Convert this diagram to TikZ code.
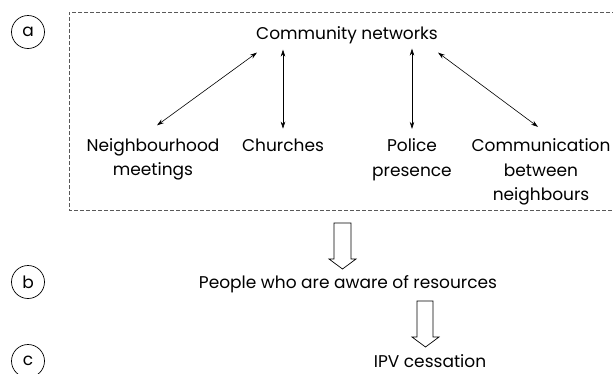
\documentclass[tikz,border=0pt]{standalone}
\usepackage{fontspec}
\setmainfont{Poppins}
\usetikzlibrary{arrows.meta,calc}
\begin{document}
\begin{tikzpicture}[x=1pt,y=-1pt,
  txt/.style={font=\fontsize{17}{24.5}\selectfont, inner sep=0pt, align=center, anchor=base},
  lbl/.style={draw, circle, minimum size=33pt, inner sep=0pt, line width=0.7pt, font=\fontsize{17}{20}\selectfont},
  dbl/.style={{Stealth[length=7pt,width=4.5pt]}-{Stealth[length=7pt,width=4.5pt]}, line width=0.6pt},
  grp/.style={draw=black!65, dash pattern=on 4pt off 2pt, line width=0.8pt},
  hollow/.style={draw, line width=0.7pt, fill=white, line join=miter}]
\useasboundingbox (0,0) rectangle (613,373);
\fill[white] (0,0) rectangle (613,373);
\draw[grp] (640,12) -- (69,12) -- (69,210) -- (640,210);
\node[lbl] (la) at (28,32) {a};
\node[lbl] (lb) at (28,282) {b};
\node[lbl] (lc) at (28,361) {c};
\node[txt] (cn) at (347,39) {Community networks};
\node[txt] (nm) at (153,175.5) {Neighbourhood\\meetings};
\node[txt] (ch) at (283,151) {Churches};
\node[txt] (po) at (412,176) {Police\\presence};
\node[txt] (co) at (541,200.5) {Communication\\between\\neighbours};
\node[txt] (pp) at (348,288) {People who are aware of resources};
\node[txt] (ipv) at (430,367) {IPV cessation};
\draw[dbl] ($(cn.south west)+(1,9)$) -- ($(nm.north)+(4,-12.5)$);
\draw[dbl] ($(ch.north |- cn.south)+(0,6)$) -- ($(ch.north)+(0,-9.5)$);
\draw[dbl] ($(po.north |- cn.south)+(0,5)$) -- ($(po.north)+(0,-9.5)$);
\draw[dbl] ($(cn.south east)+(0,9)$) -- ($(co.north)+(-3,-11.5)$);
\draw[hollow] (334,223) -- (351,223) -- (351,259) -- (356,259) -- (342.5,269) -- (329,259) -- (334,259) -- cycle;
\draw[hollow] (417,301) -- (433,301) -- (433,337) -- (439,337) -- (425.5,347) -- (412,337) -- (417,337) -- cycle;
\end{tikzpicture}
\end{document}
